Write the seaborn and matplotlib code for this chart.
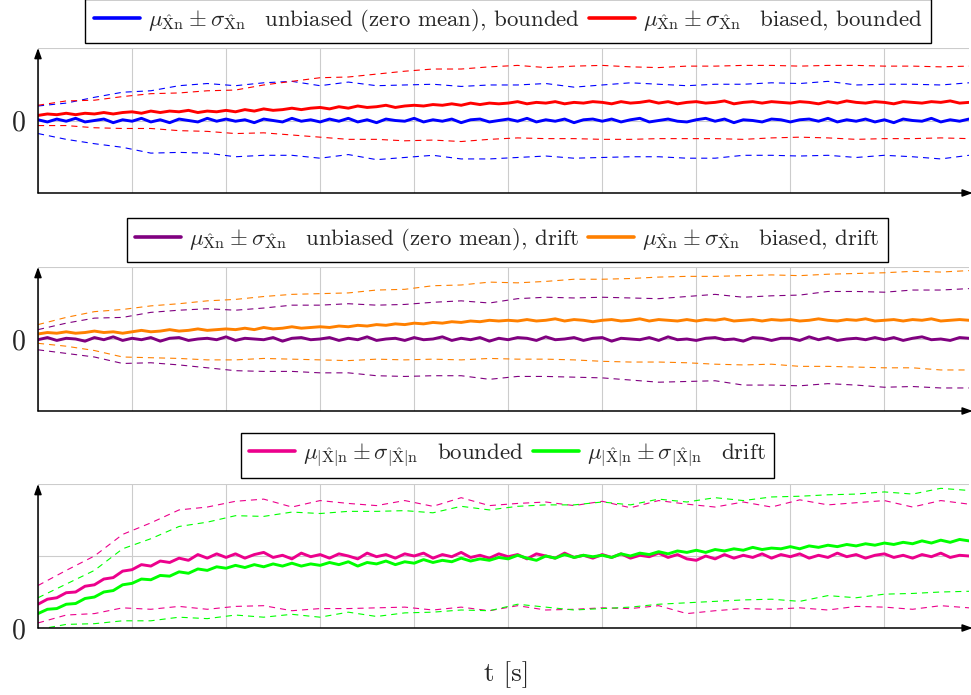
import numpy as np
import matplotlib
matplotlib.use("Agg")
import matplotlib.pyplot as plt
from matplotlib.lines import Line2D
import seaborn as sns

# ---------------- data ----------------
t = np.round(np.arange(100) * 0.1, 1)          # sample times [s]
t_sig = t[::3]                                   # times where sigma was read
idx_sig = np.arange(0, 100, 3)

blue_mu = [0.01, -0.02, 0.02, -0.01, 0.03, -0.02, 0.00, 0.02, -0.03, 0.01,
           -0.01, 0.03, -0.02, 0.01, -0.03, 0.02, 0.00, -0.02, 0.03, -0.01,
           0.02, -0.01, 0.01, -0.03, 0.02, 0.00, -0.02, 0.03, -0.01, 0.01,
           -0.02, 0.02, -0.01, 0.03, -0.02, 0.01, -0.03, 0.02, 0.00, -0.01,
           0.03, -0.02, 0.01, -0.01, 0.02, -0.03, 0.01, 0.02, -0.02, 0.00,
           0.02, -0.01, 0.03, -0.02, 0.01, -0.01, 0.02, -0.03, 0.01, 0.02,
           -0.01, 0.02, -0.02, 0.01, 0.03, -0.02, 0.00, 0.02, -0.01, -0.02,
           0.01, 0.03, -0.01, 0.02, -0.03, 0.01, 0.00, -0.02, 0.02, 0.01,
           -0.02, 0.01, 0.02, -0.01, 0.03, -0.02, 0.01, -0.01, 0.02, -0.02,
           0.01, -0.03, 0.02, 0.00, -0.01, 0.03, -0.02, 0.01, -0.01, 0.02]
red_mu = [0.07, 0.09, 0.08, 0.10, 0.08, 0.10, 0.09, 0.11, 0.09, 0.11,
          0.12, 0.10, 0.13, 0.11, 0.13, 0.12, 0.14, 0.11, 0.13, 0.12,
          0.14, 0.12, 0.15, 0.13, 0.16, 0.14, 0.15, 0.17, 0.15, 0.17,
          0.18, 0.16, 0.19, 0.17, 0.20, 0.18, 0.19, 0.21, 0.18, 0.20,
          0.21, 0.20, 0.22, 0.21, 0.23, 0.21, 0.24, 0.22, 0.24, 0.23,
          0.24, 0.26, 0.23, 0.25, 0.24, 0.26, 0.23, 0.25, 0.24, 0.26,
          0.25, 0.23, 0.26, 0.24, 0.25, 0.27, 0.24, 0.26, 0.23, 0.25,
          0.26, 0.24, 0.25, 0.27, 0.23, 0.25, 0.26, 0.24, 0.26, 0.25,
          0.24, 0.26, 0.25, 0.23, 0.26, 0.24, 0.27, 0.25, 0.24, 0.26,
          0.25, 0.23, 0.26, 0.25, 0.24, 0.26, 0.25, 0.27, 0.24, 0.25]
blue_sig = [0.19, 0.25, 0.32, 0.38, 0.43, 0.46, 0.48, 0.49, 0.50, 0.51,
            0.50, 0.50, 0.51, 0.50, 0.49, 0.50, 0.51, 0.50, 0.50, 0.49,
            0.50, 0.51, 0.50, 0.50, 0.51, 0.49, 0.50, 0.50, 0.51, 0.50,
            0.49, 0.50, 0.51, 0.50]
red_sig = [0.14, 0.17, 0.19, 0.22, 0.24, 0.26, 0.28, 0.30, 0.33, 0.37,
           0.41, 0.43, 0.45, 0.48, 0.49, 0.50, 0.50, 0.50, 0.49, 0.50,
           0.51, 0.50, 0.49, 0.50, 0.50, 0.51, 0.50, 0.49, 0.50, 0.51,
           0.50, 0.50, 0.49, 0.50]

purple_mu = [-0.01, 0.02, -0.02, 0.01, 0.00, -0.03, 0.02, -0.01, 0.03, -0.02,
             0.01, -0.01, 0.02, -0.03, 0.01, 0.02, -0.02, 0.00, 0.01, -0.01,
             0.03, -0.02, 0.01, 0.00, -0.01, 0.02, -0.03, 0.01, 0.02, -0.01,
             0.00, 0.02, -0.02, 0.01, -0.01, 0.03, -0.02, 0.00, 0.01, -0.02,
             0.02, -0.01, 0.00, 0.03, -0.02, 0.01, -0.01, 0.02, -0.03, 0.01,
             -0.01, 0.02, 0.01, -0.02, 0.03, -0.01, 0.00, 0.02, -0.02, 0.01,
             0.02, -0.03, 0.01, 0.00, -0.01, 0.02, -0.02, 0.03, -0.01, 0.00,
             -0.02, 0.01, 0.02, -0.01, 0.00, -0.03, 0.02, 0.01, -0.02, 0.01,
             0.01, -0.02, 0.03, -0.01, 0.02, -0.02, 0.00, 0.01, -0.01, 0.02,
             -0.01, 0.02, -0.02, 0.01, 0.03, -0.01, 0.00, -0.02, 0.02, 0.01]
orange_mu = [0.07, 0.09, 0.08, 0.10, 0.08, 0.09, 0.11, 0.09, 0.10, 0.08,
             0.10, 0.12, 0.10, 0.11, 0.13, 0.11, 0.12, 0.14, 0.12, 0.13,
             0.14, 0.13, 0.15, 0.13, 0.16, 0.14, 0.15, 0.17, 0.15, 0.16,
             0.17, 0.16, 0.18, 0.17, 0.19, 0.18, 0.20, 0.19, 0.21, 0.20,
             0.22, 0.21, 0.23, 0.22, 0.24, 0.23, 0.25, 0.24, 0.26, 0.25,
             0.26, 0.25, 0.27, 0.25, 0.26, 0.28, 0.25, 0.27, 0.26, 0.24,
             0.26, 0.27, 0.25, 0.26, 0.28, 0.25, 0.27, 0.26, 0.25, 0.27,
             0.25, 0.27, 0.26, 0.28, 0.25, 0.26, 0.27, 0.25, 0.27, 0.26,
             0.27, 0.25, 0.26, 0.28, 0.26, 0.25, 0.27, 0.26, 0.28, 0.25,
             0.26, 0.27, 0.25, 0.27, 0.26, 0.28, 0.25, 0.26, 0.27, 0.26]
purple_sig = [0.14, 0.21, 0.27, 0.32, 0.35, 0.38, 0.41, 0.42, 0.44, 0.46,
              0.47, 0.48, 0.49, 0.50, 0.51, 0.52, 0.53, 0.54, 0.55, 0.55,
              0.56, 0.57, 0.58, 0.59, 0.60, 0.61, 0.62, 0.63, 0.64, 0.65,
              0.66, 0.67, 0.68, 0.69]
orange_sig = [0.13, 0.20, 0.27, 0.33, 0.36, 0.38, 0.41, 0.42, 0.43, 0.45,
              0.46, 0.47, 0.48, 0.49, 0.51, 0.52, 0.53, 0.53, 0.54, 0.56,
              0.57, 0.58, 0.59, 0.60, 0.61, 0.62, 0.62, 0.63, 0.64, 0.65,
              0.66, 0.67, 0.68, 0.69]

pink_mu = [0.33, 0.40, 0.42, 0.49, 0.50, 0.58, 0.60, 0.68, 0.70, 0.79,
           0.81, 0.88, 0.86, 0.93, 0.91, 0.97, 0.94, 1.02, 0.97, 1.03,
           0.98, 1.03, 0.97, 1.02, 1.05, 0.98, 1.01, 0.96, 1.04, 0.99,
           1.02, 0.97, 1.03, 1.00, 0.96, 1.04, 0.99, 1.02, 0.97, 1.03,
           1.00, 1.04, 0.97, 1.02, 0.99, 1.05, 0.98, 1.01, 0.97, 1.03,
           0.99, 1.02, 0.96, 1.03, 1.00, 0.97, 1.04, 0.98, 1.01, 0.97,
           1.02, 0.98, 1.03, 0.97, 1.01, 0.99, 1.04, 0.98, 1.02, 0.96,
           0.94, 1.00, 0.96, 1.02, 0.97, 1.01, 0.98, 1.03, 0.97, 1.02,
           0.99, 1.03, 0.97, 1.01, 0.98, 1.04, 0.99, 1.02, 0.97, 1.01,
           1.03, 0.98, 1.01, 0.97, 1.02, 0.99, 1.04, 0.98, 1.01, 1.00]
green_mu = [0.20, 0.26, 0.27, 0.33, 0.34, 0.41, 0.43, 0.50, 0.52, 0.60,
            0.62, 0.68, 0.67, 0.73, 0.72, 0.78, 0.76, 0.82, 0.80, 0.85,
            0.83, 0.87, 0.84, 0.88, 0.85, 0.89, 0.86, 0.90, 0.86, 0.89,
            0.87, 0.91, 0.88, 0.92, 0.86, 0.91, 0.89, 0.93, 0.88, 0.92,
            0.90, 0.95, 0.91, 0.94, 0.92, 0.97, 0.93, 0.96, 0.94, 0.98,
            0.96, 1.01, 0.97, 0.94, 1.00, 0.97, 1.02, 0.98, 1.01, 0.99,
            1.01, 0.98, 1.03, 1.00, 1.04, 1.02, 1.06, 1.03, 1.07, 1.05,
            1.08, 1.05, 1.09, 1.07, 1.10, 1.08, 1.12, 1.09, 1.11, 1.10,
            1.13, 1.10, 1.14, 1.12, 1.15, 1.13, 1.16, 1.14, 1.17, 1.15,
            1.18, 1.16, 1.19, 1.17, 1.21, 1.18, 1.22, 1.19, 1.23, 1.21]
pink_sig = [0.26, 0.31, 0.40, 0.51, 0.60, 0.67, 0.71, 0.73, 0.74, 0.72,
            0.75, 0.73, 0.71, 0.74, 0.72, 0.76, 0.73, 0.71, 0.75, 0.72,
            0.74, 0.70, 0.73, 0.76, 0.72, 0.74, 0.71, 0.75, 0.73, 0.72,
            0.74, 0.71, 0.73, 0.72]
green_sig = [0.22, 0.28, 0.37, 0.50, 0.57, 0.63, 0.67, 0.69, 0.70, 0.71,
             0.72, 0.70, 0.73, 0.71, 0.69, 0.72, 0.70, 0.68, 0.71, 0.73,
             0.74, 0.71, 0.73, 0.70, 0.72, 0.69, 0.71, 0.73, 0.70, 0.72,
             0.71, 0.69, 0.72, 0.70]

MX = r"$\mu_{\hat{\mathrm{X}}\mathrm{n}}\pm\sigma_{\hat{\mathrm{X}}\mathrm{n}}\;\;$ "
MA = r"$\mu_{|\hat{\mathrm{X}}|\mathrm{n}}\pm\sigma_{|\hat{\mathrm{X}}|\mathrm{n}}\;\;$ "

panels = [
    dict(series=[(blue_mu, blue_sig, "#0000FF", MX + "unbiased (zero mean), bounded"),
                 (red_mu, red_sig, "#FF0000", MX + "biased, bounded")],
         ylim=(-1, 1), yticks=[-1, 0, 1], ylabels=["", "0", ""]),
    dict(series=[(purple_mu, purple_sig, "#800080", MX + "unbiased (zero mean), drift"),
                 (orange_mu, orange_sig, "#FF8000", MX + "biased, drift")],
         ylim=(-1, 1), yticks=[-1, 0, 1], ylabels=["", "0", ""]),
    dict(series=[(pink_mu, pink_sig, "#EC008C", MA + "bounded"),
                 (green_mu, green_sig, "#00FF00", MA + "drift")],
         ylim=(0, 2), yticks=[0, 1, 2], ylabels=["0", "", ""]),
]
xticks = list(range(10))

# ---------------- style ----------------
sns.set_theme(style="white")
plt.rcParams["font.family"] = ["cmr10", "DejaVu Sans"]
plt.rcParams["mathtext.fontset"] = "cm"
plt.rcParams["axes.unicode_minus"] = False
plt.rcParams["axes.formatter.use_mathtext"] = True

W, H = 971, 695
fig = plt.figure(figsize=(W / 100, H / 100), dpi=100)
L, R = 38, 969
boxes = [(48, 193), (267, 411), (484, 628)]
leg_pos = [(508, 43), (507.5, 262), (507.5, 478)]

for p, (top, bot), (lx, ly) in zip(panels, boxes, leg_pos):
    ax = fig.add_axes([L / W, 1 - bot / H, (R - L) / W, (bot - top) / H])
    handles = []
    for mu, sig, col, lab in p["series"]:
        mu = np.asarray(mu)
        sig = np.asarray(sig)
        sns.lineplot(x=t, y=mu, ax=ax, color=col, lw=2.1, zorder=3)
        for sgn in (1, -1):
            sns.lineplot(x=t_sig, y=mu[idx_sig] + sgn * sig, ax=ax, color=col,
                         lw=0.8, linestyle=(0, (5.5, 4.5)), zorder=2)
        handles.append(Line2D([], [], color=col, lw=2.6, label=lab))
    ax.set_xlim(0, 9.9)
    ax.set_ylim(*p["ylim"])
    ax.set_xticks(xticks)
    ax.set_xticklabels([""] * len(xticks))
    ax.set_yticks(p["yticks"])
    ax.set_yticklabels(p["ylabels"], fontsize=20)
    ax.set_xlabel("")
    ax.set_ylabel("")
    ax.grid(True, color="#cccccc", lw=0.8, zorder=0)
    ax.tick_params(axis="both", direction="inout", length=8, width=0.8,
                   color="#999999", pad=5)
    for s in ax.spines.values():
        s.set_visible(False)
    ax.set_facecolor("white")
    ax.annotate("", xy=(0, 1), xytext=(0, 0), xycoords="axes fraction",
                arrowprops=dict(arrowstyle="-|>,head_width=0.18,head_length=0.5",
                                lw=1.1, color="black", shrinkA=0, shrinkB=0),
                annotation_clip=False, zorder=5)
    ax.annotate("", xy=(1.004, 0), xytext=(0, 0), xycoords="axes fraction",
                arrowprops=dict(arrowstyle="-|>,head_width=0.18,head_length=0.5",
                                lw=1.1, color="black", shrinkA=0, shrinkB=0),
                annotation_clip=False, zorder=5)
    leg = ax.legend(handles=handles, loc="lower center",
                    bbox_to_anchor=(lx / W, 1 - ly / H), bbox_transform=fig.transFigure,
                    ncol=2, fontsize=16.5, frameon=True, fancybox=False,
                    edgecolor="black", framealpha=1, borderpad=0.38,
                    handlelength=2.0, handletextpad=0.35, columnspacing=0.4,
                    borderaxespad=0)
    leg.get_frame().set_linewidth(1.0)

fig.text(507 / W, 1 - 675 / H, "t [s]", ha="center", va="center", fontsize=19.5)

fig.savefig("out.png", dpi=100)
